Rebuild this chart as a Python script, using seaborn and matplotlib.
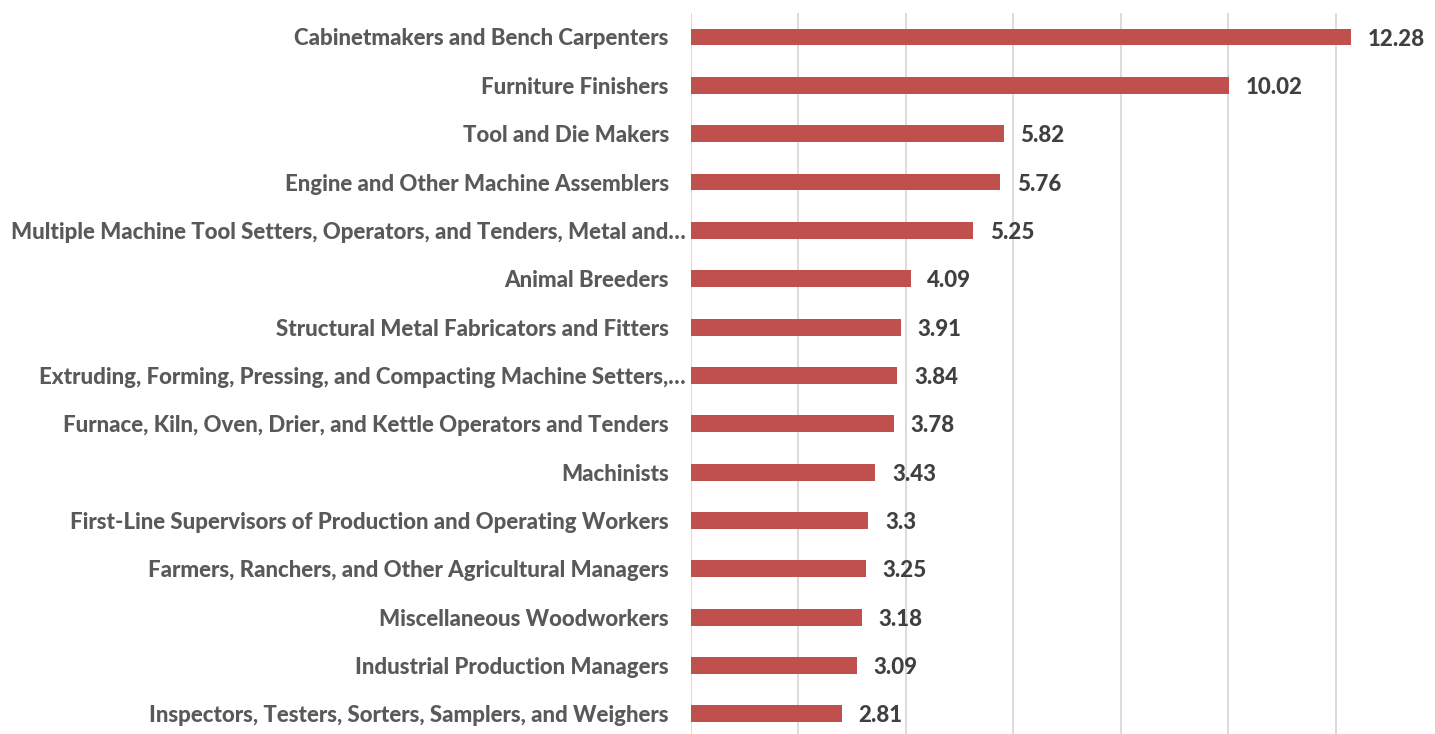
import matplotlib
matplotlib.use("Agg")
import matplotlib.pyplot as plt
import matplotlib.transforms as mtransforms
import seaborn as sns
import pandas as pd

# Occupations and values, top to bottom
occupations = [
    "Cabinetmakers and Bench Carpenters",
    "Furniture Finishers",
    "Tool and Die Makers",
    "Engine and Other Machine Assemblers",
    "Multiple Machine Tool Setters, Operators, and Tenders, Metal and\u2026",
    "Animal Breeders",
    "Structural Metal Fabricators and Fitters",
    "Extruding, Forming, Pressing, and Compacting Machine Setters,\u2026",
    "Furnace, Kiln, Oven, Drier, and Kettle Operators and Tenders",
    "Machinists",
    "First-Line Supervisors of Production and Operating Workers",
    "Farmers, Ranchers, and Other Agricultural Managers",
    "Miscellaneous Woodworkers",
    "Industrial Production Managers",
    "Inspectors, Testers, Sorters, Samplers, and Weighers",
]
values = [12.28, 10.02, 5.82, 5.76, 5.25, 4.09, 3.91, 3.84, 3.78, 3.43, 3.3, 3.25, 3.18, 3.09, 2.81]
value_labels = ["12.28", "10.02", "5.82", "5.76", "5.25", "4.09", "3.91", "3.84",
                "3.78", "3.43", "3.3", "3.25", "3.18", "3.09", "2.81"]

df = pd.DataFrame({"occupation": occupations, "value": values})

sns.set_style("white")
plt.rcParams["font.family"] = ["Lato", "DejaVu Sans"]

fig = plt.figure(figsize=(14.35, 7.34), dpi=100)
ax = fig.add_axes([691 / 1435, -4 / 734, (1443 - 691) / 1435, (734 - 12.8 + 4) / 734])

sns.barplot(data=df, x="value", y="occupation", color="#C0504D", width=0.35,
            saturation=1, ax=ax, edgecolor="none")

ax.set_xlim(0, 14)
ax.set_xticks(range(0, 15, 2))
ax.grid(axis="x", color="#D9D9D9", linewidth=1.3)
ax.set_axisbelow(True)
for s in ax.spines.values():
    s.set_visible(False)
ax.tick_params(axis="x", labelbottom=False, length=0)
ax.tick_params(axis="y", length=0, pad=16)
# truncated labels sit a bit closer to the axis, like Excel draws them
shift = mtransforms.ScaledTranslation(17 / 100, 0, fig.dpi_scale_trans)
for lbl in ax.get_yticklabels():
    lbl.set_fontsize(16)
    lbl.set_fontweight("black")
    lbl.set_color("#595959")
    if lbl.get_text().endswith("\u2026"):
        lbl.set_transform(lbl.get_transform() + shift)
ax.set_xlabel("")
ax.set_ylabel("")

for i, (v, t) in enumerate(zip(values, value_labels)):
    ax.annotate(t, xy=(v, i), xytext=(12, -1.5), textcoords="offset points",
                va="center", ha="left", fontsize=16, fontweight="black", color="#404040")

fig.savefig("out.png", dpi=100)
